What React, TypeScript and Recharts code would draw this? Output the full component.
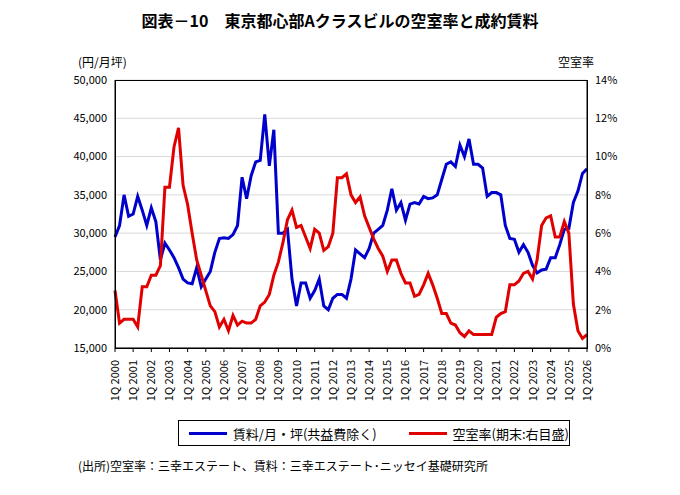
import React from "react";
import { LineChart, Line, XAxis, YAxis, CartesianGrid } from "recharts";

// 四半期ごとの賃料（円/月坪）と空室率（%）、1Q2000〜1Q2026
const rent = [
  29.5, 31, 35, 32.2, 32.5, 34.8, 33, 31, 33.3, 31.5, 26.5, 28.7,
  27.8, 26.8, 25.5, 24, 23.5, 23.4, 25.5, 23, 24, 25, 27.5, 29.3,
  29.4, 29.3, 29.8, 31, 37.3, 34.5, 37.5, 39.3, 39.5, 45.5, 38.8, 43.5,
  30, 30, 30.5, 24, 20.5, 23.5, 23.5, 21.5, 22.5, 24, 20.5, 20,
  21.5, 22, 22, 21.5, 24, 27.8, 27.3, 26.8, 28, 30, 30.5, 31,
  33, 35.8, 33, 34, 31.7, 33.8, 34, 33.8, 34.8, 34.5, 34.6, 35,
  37, 39, 39.3, 38.7, 41.5, 40, 42.3, 39, 39, 38.5, 34.8, 35.3,
  35.3, 35, 31, 29.3, 29.2, 27.5, 28.5, 27.5, 25.8, 24.8, 25.2, 25.3,
  26.8, 26.8, 28.5, 30.5, 30.6, 34, 35.5, 37.8, 38.4,
];
const vacancy = [
  3, 1.3, 1.5, 1.5, 1.5, 1.1, 3.2, 3.2, 3.8, 3.8, 4.3, 8.4,
  8.4, 10.5, 11.5, 8.5, 7.5, 6, 4.6, 3.8, 3, 2.2, 1.9, 1.1,
  1.5, 0.9, 1.7, 1.2, 1.4, 1.3, 1.3, 1.5, 2.2, 2.4, 2.8, 3.8,
  4.5, 5.5, 6.7, 7.2, 6.3, 6.4, 5.8, 5.2, 6.2, 6, 5.1, 5.3,
  6, 8.9, 8.9, 9.1, 8, 7.6, 7.9, 6.9, 6.3, 5.7, 5.2, 4.8,
  4, 4.6, 4.6, 3.9, 3.4, 3.4, 2.7, 2.8, 3.3, 3.9, 3.3, 2.6,
  1.8, 1.8, 1.3, 1.2, 0.8, 0.6, 0.9, 0.7, 0.7, 0.7, 0.7, 0.7,
  1.6, 1.8, 1.9, 3.3, 3.3, 3.5, 3.9, 4, 3.6, 4.6, 6.4, 6.8,
  6.9, 5.8, 5.8, 6.6, 6, 2.3, 0.9, 0.5, 0.7,
];
const startYear = 2000;
const leftTicks = [15000, 20000, 25000, 30000, 35000, 40000, 45000, 50000];
const rightTicks = [0, 2, 4, 6, 8, 10, 12, 14];

const data = rent.map((r, i) => ({
  q: `${(i % 4) + 1}Q ${startYear + Math.floor(i / 4)}`,
  rent: r * 1000,
  vacancy: vacancy[i],
}));
const yearTicks = data.filter((_, i) => i % 4 === 0).map((d) => d.q);

const font = "'Noto Sans CJK JP', 'Noto Sans', sans-serif";

const XTick = ({ x, y, payload }: any) => (
  <text
    x={x + 4}
    y={y + 6}
    transform={`rotate(-90 ${x + 4} ${y + 6})`}
    textAnchor="end"
    fontSize={11}
    fill="#000"
    fontFamily={font}
  >
    {payload.value}
  </text>
);

export default function App() {
  return (
    <div
      style={{
        position: "absolute",
        left: 0,
        top: 0,
        width: 680,
        height: 495,
        background: "#fff",
        fontFamily: font,
      }}
    >
      <div style={{ position: "absolute", top: 8, width: 680, textAlign: "center", fontSize: 16, fontWeight: "bold" }}>
        図表－10　東京都心部Aクラスビルの空室率と成約賃料
      </div>
      <div style={{ position: "absolute", left: 78, top: 53, fontSize: 12 }}>(円/月坪)</div>
      <div style={{ position: "absolute", left: 558, top: 53, fontSize: 12 }}>空室率</div>
      <LineChart
        width={680}
        height={495}
        data={data}
        margin={{ top: 80, right: 0, left: 0, bottom: 87 }}
      >
        <CartesianGrid vertical={false} stroke="#d9d9d9" yAxisId="left" />
        <XAxis
          dataKey="q"
          ticks={yearTicks}
          interval={0}
          tick={<XTick />}
          height={60}
          stroke="#000"
          tickSize={4}
        />
        <YAxis
          yAxisId="left"
          domain={[15000, 50000]}
          ticks={leftTicks}
          width={115}
          tickFormatter={(v) => v.toLocaleString("en-US")}
          tick={{ fontSize: 11, fill: "#000", fontFamily: font }}
          stroke="#000"
          tickLine={false}
        />
        <YAxis
          yAxisId="right"
          orientation="right"
          domain={[0, 14]}
          ticks={rightTicks}
          width={93}
          tickFormatter={(v) => `${v}%`}
          tick={{ fontSize: 11, fill: "#000", fontFamily: font }}
          stroke="#000"
          tickLine={false}
        />
        <Line yAxisId="left" dataKey="rent" stroke="#0000cc" strokeWidth={3} dot={false} type="linear" isAnimationActive={false} />
        <Line yAxisId="right" dataKey="vacancy" stroke="#e00000" strokeWidth={3} dot={false} type="linear" isAnimationActive={false} />
      </LineChart>
      <div style={{ position: "absolute", left: 115, top: 80, width: 471, height: 267, border: "1px solid #000", pointerEvents: "none" }} />
      <div
        style={{
          position: "absolute",
          left: 178,
          top: 420,
          width: 390,
          height: 24,
          border: "1px solid #000",
          display: "flex",
          alignItems: "center",
          fontSize: 13,
          whiteSpace: "nowrap",
        }}
      >
        <span style={{ display: "inline-block", width: 44, height: 3, background: "#0000cc", marginLeft: 10, marginRight: 6 }} />
        <span>賃料/月・坪(共益費除く)</span>
        <span style={{ display: "inline-block", width: 44, height: 3, background: "#e00000", marginLeft: 32, marginRight: 6 }} />
        <span>空室率(期末:右目盛)</span>
      </div>
      <div style={{ position: "absolute", left: 78, top: 457, fontSize: 12 }}>
        (出所)空室率：三幸エステート、賃料：三幸エステート･ニッセイ基礎研究所
      </div>
    </div>
  );
}
